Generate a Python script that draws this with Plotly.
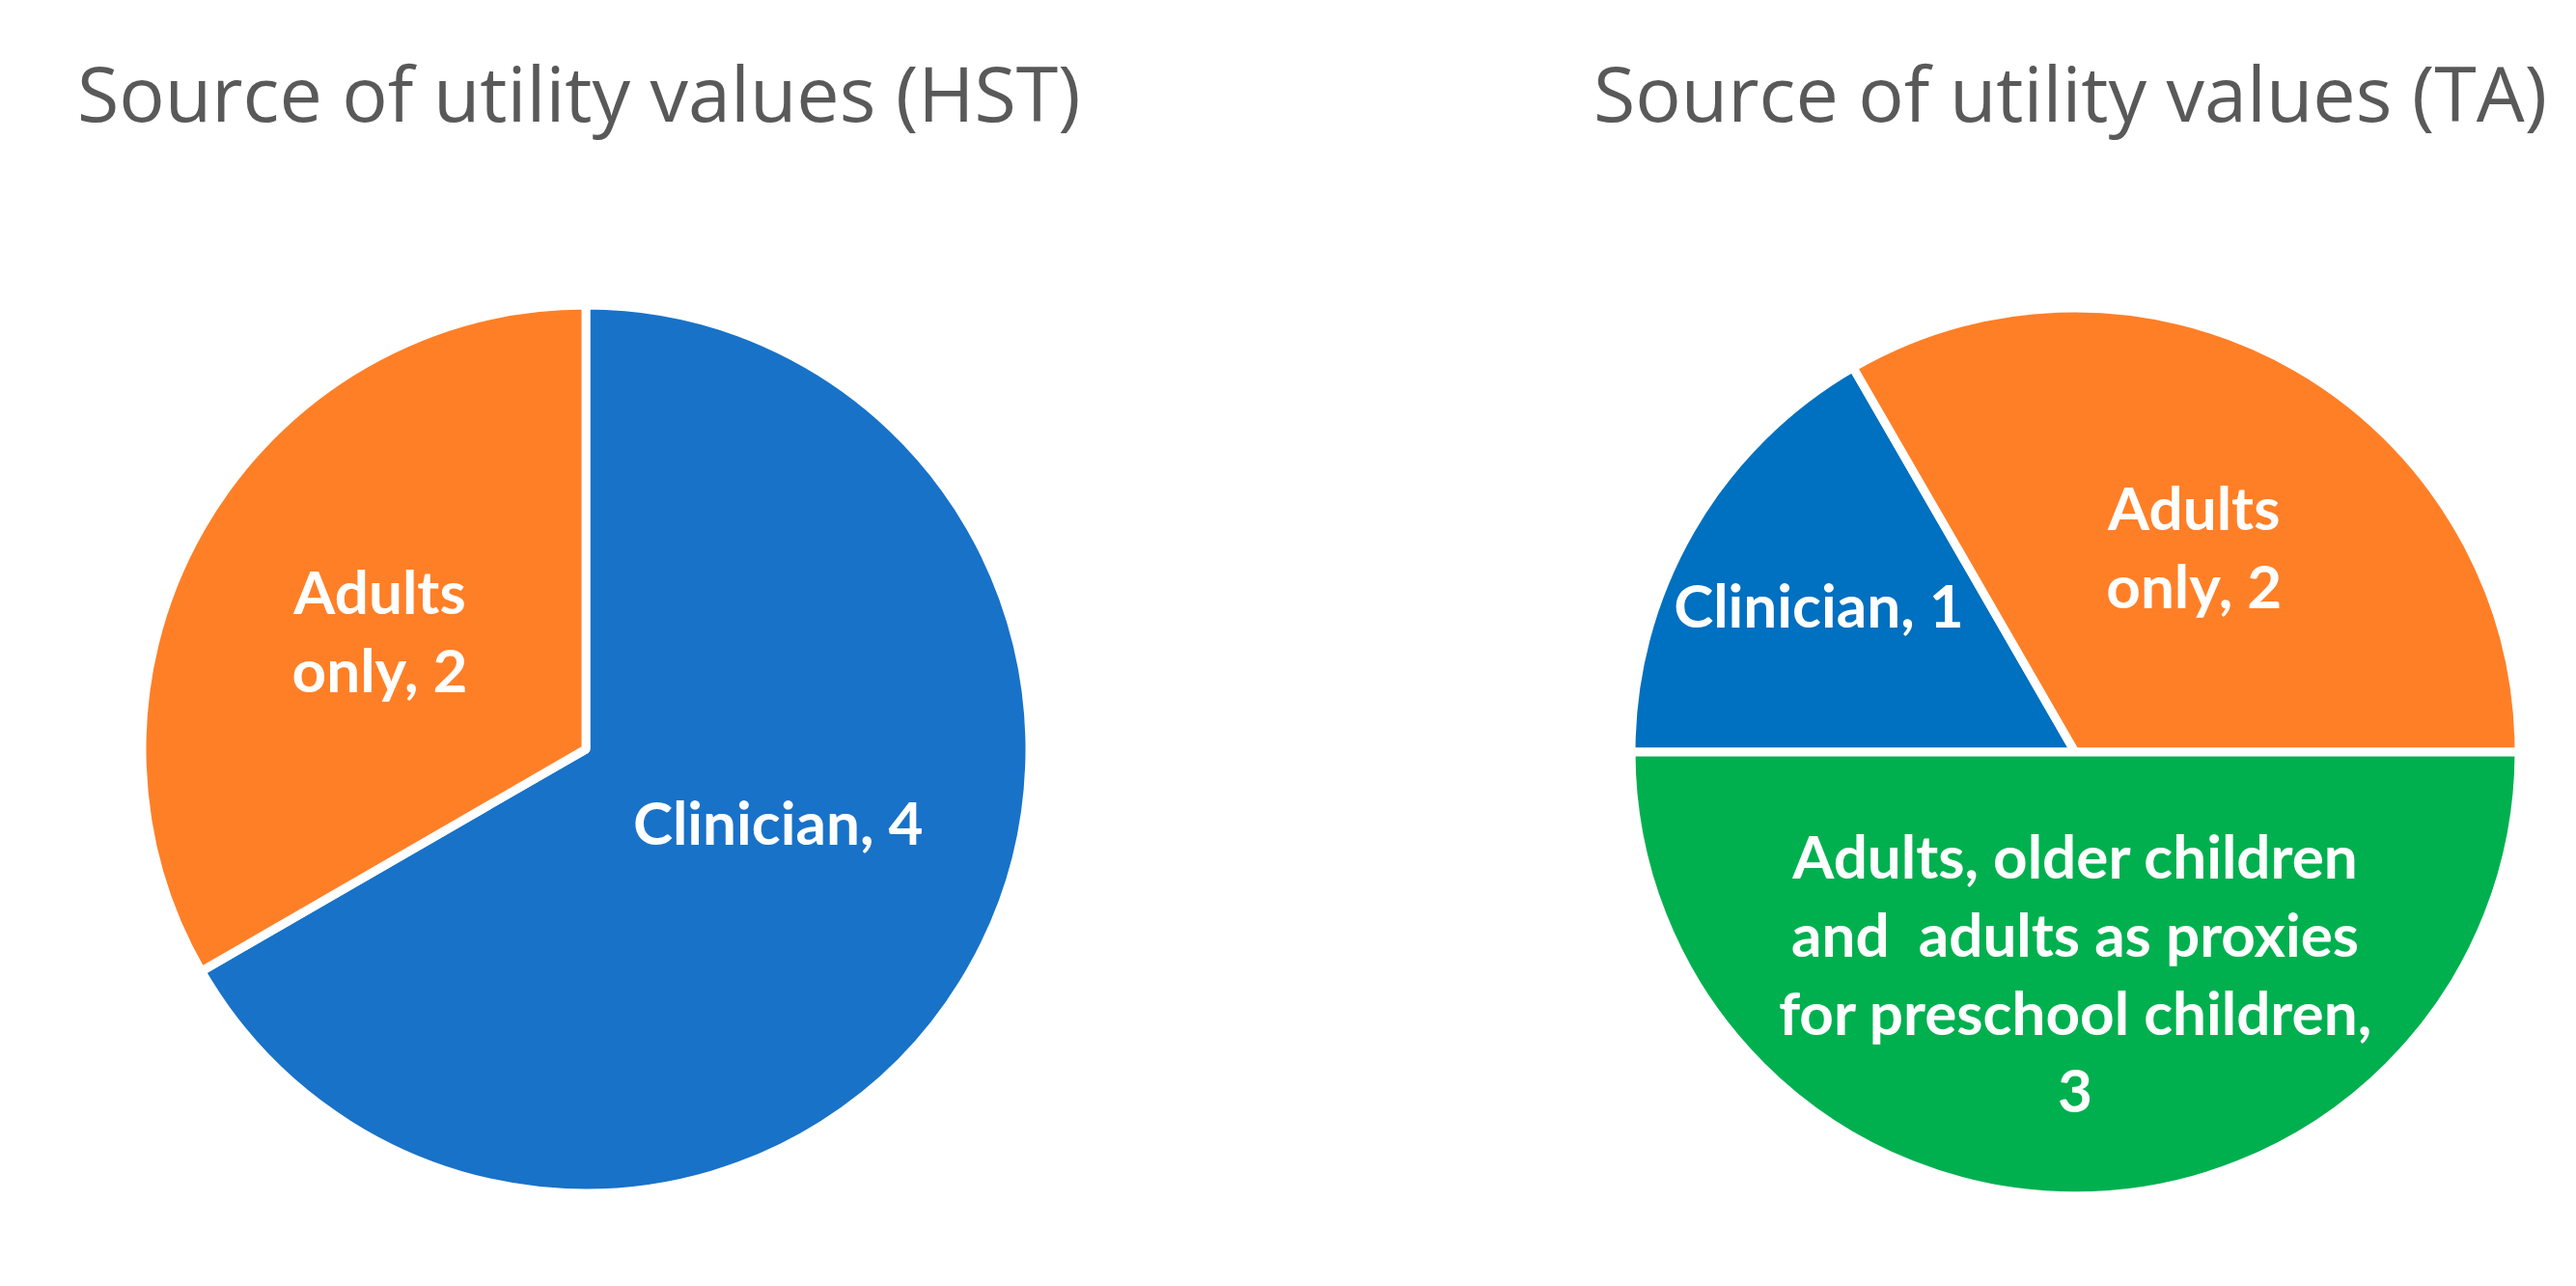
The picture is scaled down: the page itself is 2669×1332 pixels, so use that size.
import plotly.graph_objects as go

W, H = 2669, 1332
NB = "\u00a0"  # non-breaking space, used as an empty spacer line

# Data
hst_labels = ["Clinician", "Adults only"]
hst_text = ["Clinician, 4<br>" + NB, "Adults<br>only, 2"]
hst_values = [4, 2]
hst_colors = ["#1872C8", "#FF7F27"]

ta_labels = ["Clinician", "Adults only", "Adults, older children and adults as proxies for preschool children"]
ta_text = ["Clinician, 1", "Adults<br>only, 2",
           NB + "<br>Adults, older children<br>and  adults as proxies<br>for preschool children,<br>3"]
ta_values = [1, 2, 3]
ta_colors = ["#0070C0", "#FF7F27", "#00B04F"]

titles = ["Source of utility values (HST)", "Source of utility values (TA)"]

label_font = dict(family="Lato", size=62, color="white", weight="bold")


def dom(cx, cy, r):
    return dict(x=[(cx - r) / W, (cx + r) / W], y=[(H - cy - r) / H, (H - cy + r) / H])


fig = go.Figure()
fig.add_trace(go.Pie(
    labels=hst_labels, values=hst_values, text=hst_text,
    textinfo="text", texttemplate="<b>%{text}</b>", textposition="inside",
    insidetextorientation="horizontal",
    sort=False, direction="clockwise", rotation=0,
    marker=dict(colors=hst_colors, line=dict(color="white", width=9)),
    textfont=label_font, hoverinfo="label+value",
    domain=dom(599, 768, 460), showlegend=False,
))
fig.add_trace(go.Pie(
    labels=ta_labels, values=ta_values, text=ta_text,
    textinfo="text", texttemplate="<b>%{text}</b>", textposition="inside",
    insidetextorientation="horizontal",
    sort=False, direction="clockwise", rotation=270,
    marker=dict(colors=ta_colors, line=dict(color="white", width=9)),
    textfont=label_font, hoverinfo="label+value",
    domain=dom(2142, 771, 460), showlegend=False,
))

fig.add_annotation(text=titles[0], x=70 / W, y=1 - 88 / H, xref="paper", yref="paper",
                   xanchor="left", yanchor="middle", showarrow=False,
                   font=dict(family="Open Sans", size=79, color="#595959"))
fig.add_annotation(text=titles[1], x=1641 / W, y=1 - 88 / H, xref="paper", yref="paper",
                   xanchor="left", yanchor="middle", showarrow=False,
                   font=dict(family="Open Sans", size=79, color="#595959"))

fig.update_layout(
    width=W, height=H, margin=dict(l=0, r=0, t=0, b=0),
    paper_bgcolor="white", plot_bgcolor="white",
    uniformtext=dict(minsize=62, mode="show"),
)

fig.write_html("out.html")
